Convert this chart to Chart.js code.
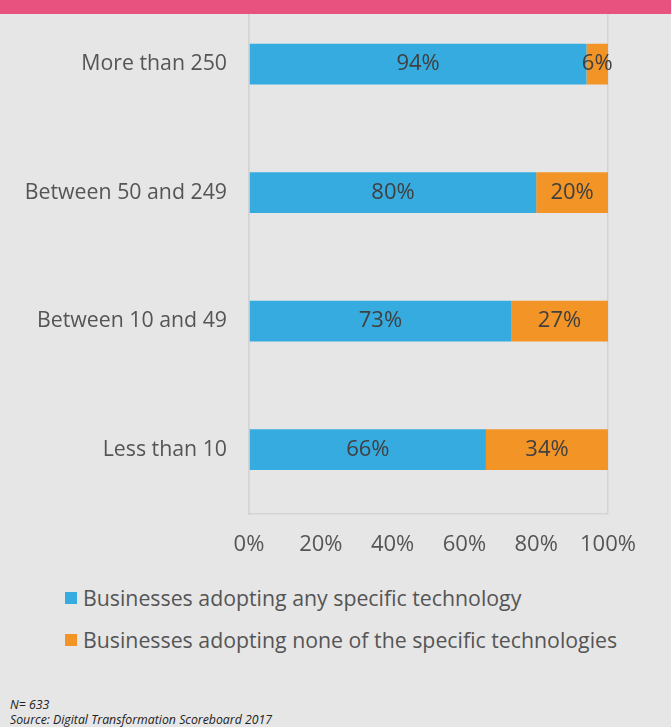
<!DOCTYPE html>
<html>
<head>
<meta charset="utf-8">
<script src="https://cdn.jsdelivr.net/npm/chart.js@4/dist/chart.umd.min.js"></script>
<style>
  html, body { margin: 0; padding: 0; }
  body { width: 671px; height: 727px; background: #e6e6e6; position: relative; overflow: hidden;
         font-family: "Open Sans", sans-serif; color: #555; }
  #topbar { position: absolute; left: 0; top: 0; width: 671px; height: 14px; background: #e8527f; z-index: 2; }
  #wrap { position: absolute; left: 0; top: -35px; width: 671px; height: 599px; }
  #legend { position: absolute; left: 65px; top: 582px; }
  .item { display: flex; align-items: center; height: 30px; margin-bottom: 12px; font-size: 21.3px; color: #555; }
  .box { width: 12px; height: 12px; margin-right: 6px; margin-top: 2px; }
  #notes { position: absolute; left: 10px; top: 697px; font-size: 12.3px; font-style: italic; color: #222; line-height: 15px; }
</style>
</head>
<body>
<div id="topbar"></div>
<div id="wrap"><canvas id="chart"></canvas></div>
<div id="legend"></div>
<div id="notes">N= 633<br>Source: Digital Transformation Scoreboard 2017</div>
<script>
const categories = ["More than 250", "Between 50 and 249", "Between 10 and 49", "Less than 10"];
const adopting   = [94, 80, 73, 66];
const notAdopting = [6, 20, 27, 34];
const seriesNames = ["Businesses adopting any specific technology", "Businesses adopting none of the specific technologies"];
const seriesColors = ["#36abdf", "#f39426"];

/* labels in the middle of each segment */
const segmentLabels = {
    id: "segmentLabels",
    afterDatasetsDraw(chart) {
        const ctx = chart.ctx;
        ctx.save();
        ctx.font = "22px 'Open Sans'";
        ctx.fillStyle = "#404040";
        ctx.textAlign = "center";
        ctx.textBaseline = "middle";
        chart.data.datasets.forEach((ds, i) => {
            chart.getDatasetMeta(i).data.forEach((bar, j) => {
                const x = (bar.x + bar.base) / 2;
                ctx.fillText(ds.data[j] + "%", x, bar.y);
            });
        });
        ctx.restore();
    }
};

const chart = new Chart(document.getElementById("chart"), {
    type: "bar",
    data: {
        labels: categories,
        datasets: [
            { label: seriesNames[0], data: adopting, backgroundColor: seriesColors[0] },
            { label: seriesNames[1], data: notAdopting, backgroundColor: seriesColors[1] }
        ]
    },
    options: {
        indexAxis: "y",
        responsive: true,
        maintainAspectRatio: false,
        animation: false,
        layout: { padding: { left: 0, right: 63, top: 0, bottom: 0 } },
        datasets: { bar: { barPercentage: 0.634, categoryPercentage: 0.5 } },
        plugins: { legend: { display: false }, tooltip: { enabled: false } },
        scales: {
            x: {
                stacked: true,
                min: 0, max: 100,
                ticks: { stepSize: 20, callback: v => v + "%", color: "#555", font: { family: "Open Sans", size: 22 }, padding: 18 },
                grid: {
                    drawTicks: false,
                    lineWidth: 1.5,
                    color: c => (c.tick && (c.tick.value === 0 || c.tick.value === 100)) ? "#d4d4d4" : "rgba(0,0,0,0)"
                },
                border: { color: "#d4d4d4", width: 1.5 },
                afterFit: s => { s.height = 50; }
            },
            y: {
                stacked: true,
                ticks: { color: "#555", font: { family: "Open Sans", size: 21.3 }, padding: 22 },
                grid: { display: false, drawTicks: false },
                border: { color: "#d4d4d4", width: 1.5 },
                afterFit: s => { s.width = 249; }
            }
        }
    },
    plugins: [segmentLabels]
});

const legend = document.getElementById("legend");
seriesNames.forEach((name, i) => {
    const row = document.createElement("div");
    row.className = "item";
    row.innerHTML = '<span class="box" style="background:' + seriesColors[i] + '"></span><span>' + name + '</span>';
    legend.appendChild(row);
});
</script>
</body>
</html>
